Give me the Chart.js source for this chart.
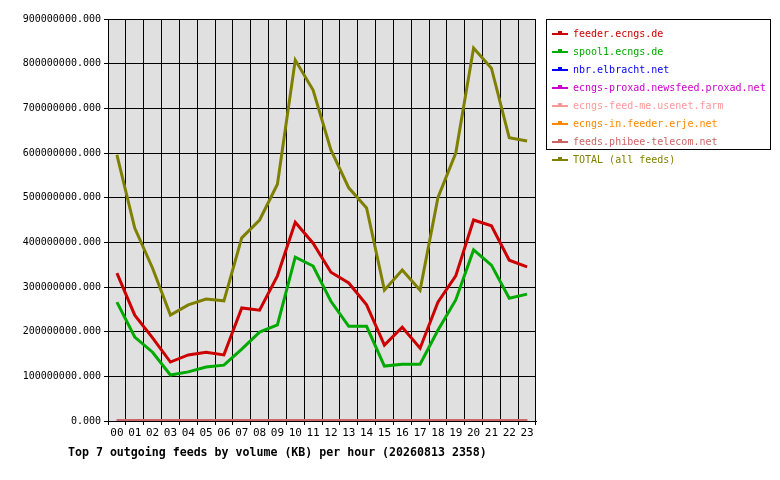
<!DOCTYPE html>
<html><head><meta charset="utf-8">
<script src="https://cdn.jsdelivr.net/npm/chart.js@4"></script>
<style>
body{margin:0;background:#fff;font-family:"DejaVu Sans Mono",monospace;}
#wrap{position:relative;width:780px;height:480px;}
#legend{position:absolute;left:546px;top:19px;width:225px;height:131px;border:1px solid #000;font-size:10px;box-sizing:border-box;padding-top:5px;}
#legend div{height:18px;line-height:18px;position:relative;padding-left:26px;white-space:nowrap;}
#legend span.l{position:absolute;left:5px;top:8px;width:16px;height:2px;}
#legend span.p{position:absolute;left:11px;top:6px;width:4px;height:4px;}
#title{position:absolute;left:68px;top:445px;font-size:11.6px;font-weight:bold;}
</style></head><body>
<div id="wrap"><canvas id="c" width="780" height="480"></canvas><div id="legend"></div>
<div id="title">Top 7 outgoing feeds by volume (KB) per hour (20260813 2358)</div></div>
<script>
const hours=["00","01","02","03","04","05","06","07","08","09","10","11","12","13","14","15","16","17","18","19","20","21","22","23"];
const feedNames=["feeder.ecngs.de","spool1.ecngs.de","nbr.elbracht.net","ecngs-proxad.newsfeed.proxad.net","ecngs-feed-me.usenet.farm","ecngs-in.feeder.erje.net","feeds.phibee-telecom.net","TOTAL (all feeds)"];
const feedColors=["#cc0000","#00aa00","#0000ff","#cc00cc","#ff9999","#ff8800","#cc6666","#808000"];
const feeder=[331e6,237e6,186e6,132e6,148e6,154e6,148e6,253e6,248e6,325e6,445e6,398e6,333e6,309e6,260e6,170e6,210e6,163e6,266e6,325e6,450e6,437e6,360e6,345e6];
const spool1=[266e6,188e6,154e6,103e6,110e6,121e6,125e6,161e6,199e6,215e6,367e6,347e6,268e6,212e6,212e6,123e6,127e6,127e6,203e6,271e6,383e6,349e6,275e6,284e6];
const nbr=[1e6,1e6,1e6,1e6,1e6,1e6,1e6,1e6,1e6,1e6,1e6,1e6,1e6,1e6,1e6,1e6,1e6,1e6,1e6,1e6,1e6,1e6,1e6,1e6];
const proxad=[1e6,1e6,1e6,1e6,1e6,1e6,1e6,1e6,1e6,1e6,1e6,1e6,1e6,1e6,1e6,1e6,1e6,1e6,1e6,1e6,1e6,1e6,1e6,1e6];
const usenetfarm=[1e6,1e6,1e6,1e6,1e6,1e6,1e6,1e6,1e6,1e6,1e6,1e6,1e6,1e6,1e6,1e6,1e6,1e6,1e6,1e6,1e6,1e6,1e6,1e6];
const erje=[1e6,1e6,1e6,1e6,1e6,1e6,1e6,1e6,1e6,1e6,1e6,1e6,1e6,1e6,1e6,1e6,1e6,1e6,1e6,1e6,1e6,1e6,1e6,1e6];
const phibee=[1e6,1e6,1e6,1e6,1e6,1e6,1e6,1e6,1e6,1e6,1e6,1e6,1e6,1e6,1e6,1e6,1e6,1e6,1e6,1e6,1e6,1e6,1e6,1e6];
const total=[596e6,432e6,342e6,237e6,260e6,273e6,269e6,410e6,450e6,530e6,808e6,741e6,607e6,522e6,477e6,293e6,338e6,293e6,500e6,600e6,835e6,790e6,634e6,627e6];
const series=[feeder,spool1,nbr,proxad,usenetfarm,erje,phibee,total];
const lg=document.getElementById('legend');
feedNames.forEach((n,i)=>{const d=document.createElement('div');d.style.color=feedColors[i];
d.innerHTML='<span class="l" style="background:'+feedColors[i]+'"></span><span class="p" style="background:'+feedColors[i]+'"></span>'+n;lg.appendChild(d);});
const bg={id:'bg',beforeDraw(c){const a=c.chartArea,x=c.ctx;x.save();x.fillStyle='#e0e0e0';x.fillRect(a.left,a.top,a.right-a.left,a.bottom-a.top);x.restore();}};
new Chart(document.getElementById('c'),{type:'line',
data:{labels:hours,datasets:series.map((s,i)=>({label:feedNames[i],data:s,borderColor:feedColors[i],backgroundColor:feedColors[i],borderWidth:3,pointRadius:0,tension:0,order:i===6?0:(i===7?1:2)}))},
options:{responsive:false,animation:false,devicePixelRatio:1,
layout:{padding:{left:0,right:244,top:19,bottom:39}},
plugins:{legend:{display:false},tooltip:{enabled:false}},
scales:{
x:{offset:true,grid:{color:'#000',offset:true,tickLength:4},border:{color:'#000'},
ticks:{color:'#000',font:{family:'DejaVu Sans Mono',size:11},maxRotation:0,autoSkip:false,padding:2},afterFit(a){a.height=20;}},
y:{min:0,max:900000000,grid:{color:'#000',tickLength:4},border:{color:'#000'},
ticks:{stepSize:100000000,color:'#000',font:{family:'DejaVu Sans Mono',size:10},callback:v=>v.toFixed(3)},afterFit(a){a.width=108;}}}},
plugins:[bg]});
</script></body></html>
